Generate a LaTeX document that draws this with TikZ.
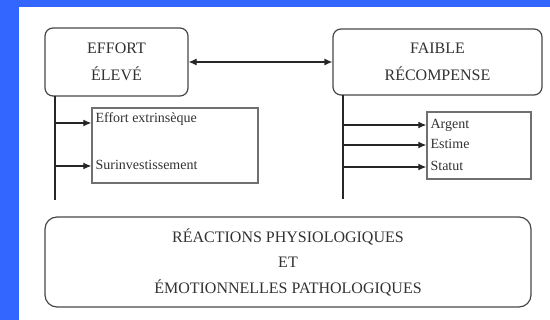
\documentclass[tikz,border=0pt]{standalone}
\usepackage{fontspec}
\setmainfont{Liberation Serif}
\usetikzlibrary{arrows.meta}
\definecolor{bgblue}{RGB}{51,102,255}
\definecolor{ink}{RGB}{50,50,50}
\begin{document}
\begin{tikzpicture}
	[x=1pt,y=-1pt,line width=1.2pt,
	bigbox/.style = {
		draw=ink!90, rounded corners=8pt,
		align=center, text=ink,
		font=\fontsize{16}{27}\selectfont
	},
	listbox/.style = {
		draw=ink!70, line width=1.4pt
	},
	item/.style = {
		anchor=base west, inner sep=0pt, text=ink,
		font=\fontsize{14}{16}\selectfont
	},
	wire/.style = {
		draw=black!85,
		-{Latex[length=8pt,width=7pt]}
	}]
	
	%Draw background
	\fill[bgblue] (0,0) rectangle (550,320);
	\fill[white] (19,7) rectangle (550,320);
	\useasboundingbox (0,0) rectangle (550,320);
	
	%Draw nodes
	\node[bigbox, minimum width=143pt, minimum height=68pt] at (116.5,62) (effort) {EFFORT\\ÉLEVÉ};
	\node[bigbox, minimum width=209pt, minimum height=66pt] at (437.5,62) (faible) {FAIBLE\\RÉCOMPENSE};
	\node[bigbox, rounded corners=12pt, minimum width=486pt, minimum height=90pt,
		font=\fontsize{16}{25.5}\selectfont] at (288,262) (reactions)
		{RÉACTIONS PHYSIOLOGIQUES\\ET\\ÉMOTIONNELLES PATHOLOGIQUES};
	
	\node[listbox, minimum width=166pt, minimum height=75pt] at (175,145.5) (lbox) {};
	\node[listbox, minimum width=104pt, minimum height=67pt] at (479,145.5) (rbox) {};
	
	\node[item] at (95,123) (extr) {Effort extrinsèque};
	\node[item] at (95,170) (surinv) {Surinvestissement};
	\node[item] at (430,129) (argent) {Argent};
	\node[item] at (430,149) (estime) {Estime};
	\node[item] at (430,171) (statut) {Statut};
	
	\coordinate (ltop) at (55,96);
	\coordinate (lbot) at (55,200);
	\coordinate (rtop) at (343,95);
	\coordinate (rbot) at (343,199);
	
	\coordinate (L1) at (55,123);
	\coordinate (L2) at (55,166);
	\coordinate (R1) at (343,125);
	\coordinate (R2) at (343,145);
	\coordinate (R3) at (343,167);
	
	%Draw wires
	\draw[wire,{Latex[length=8pt,width=7pt]}-{Latex[length=8pt,width=7pt]}] (effort.east) -- (faible.west);
	
	\draw[draw=black!85] (ltop) -- (lbot);
	\draw[draw=black!85] (rtop) -- (rbot);
	
	\draw[wire] (L1) -- (L1 -| lbox.west);
	\draw[wire] (L2) -- (L2 -| lbox.west);
	
	\draw[wire] (R1) -- (R1 -| rbox.west);
	\draw[wire] (R2) -- (R2 -| rbox.west);
	\draw[wire] (R3) -- (R3 -| rbox.west);
	
\end{tikzpicture}
\end{document}
